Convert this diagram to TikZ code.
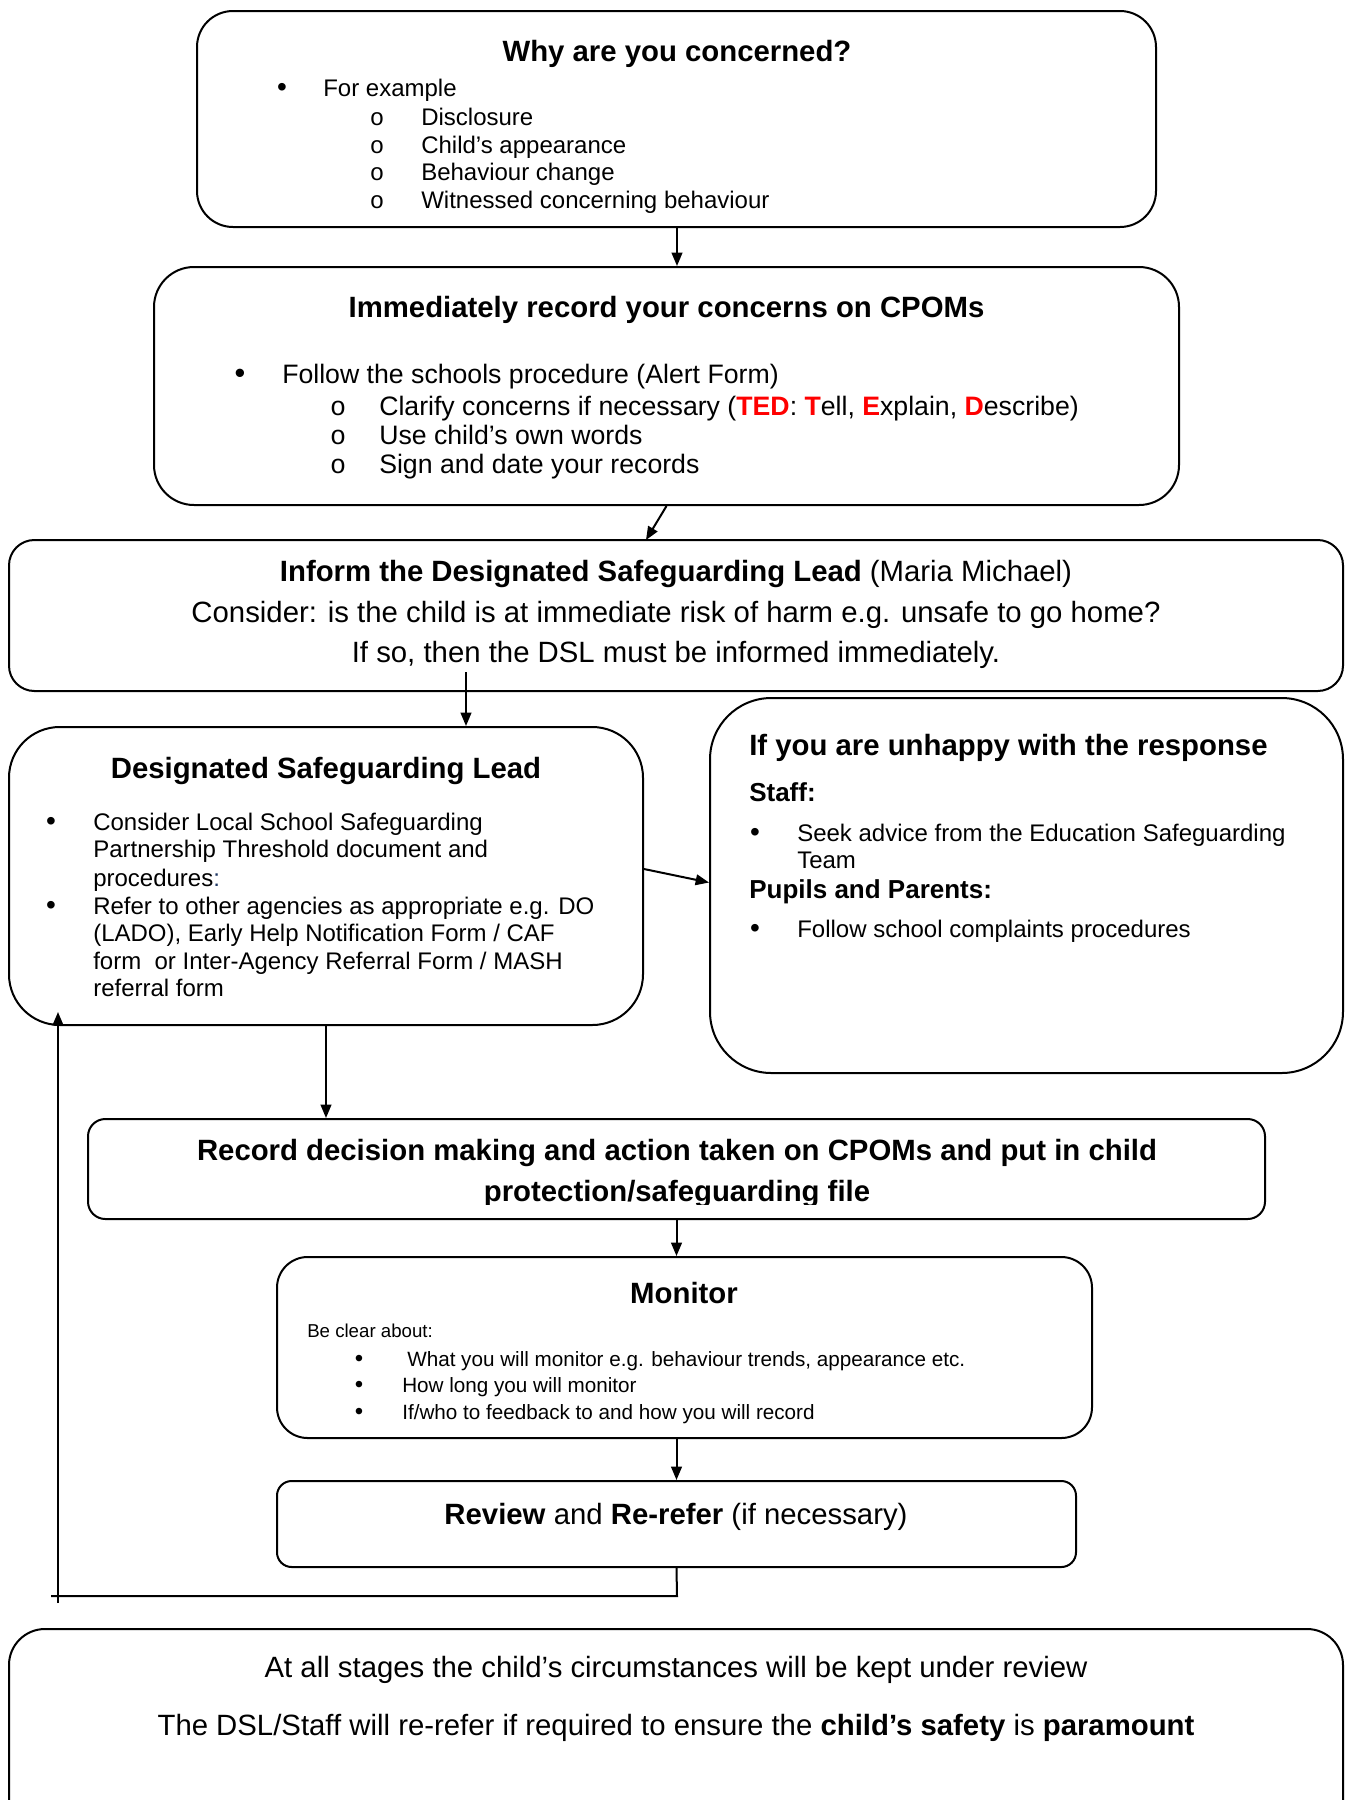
\documentclass[tikz,border=0pt]{standalone}
\usepackage{fontspec}
\setmainfont{Liberation Sans}
\newfontfamily\monofnt{Liberation Mono}
\usetikzlibrary{arrows.meta,fit,calc}
\definecolor{tedred}{RGB}{255,0,0}
\definecolor{colblue}{RGB}{31,56,100}
\newcommand\fsz[1]{\fontsize{#1}{#1}\selectfont}
\begin{document}
\begin{tikzpicture}[x=0.75pt,y=-0.75pt,
  box/.style={draw,line width=1.5pt,inner sep=0pt},
  lt/.style={anchor=mid west,inner sep=0pt,yshift=-4.8pt},
  ct/.style={anchor=mid,inner sep=0pt,yshift=-4.8pt},
  bu/.style={anchor=mid,inner sep=0pt,yshift=-4.8pt},
  arr/.style={draw,line width=1.5pt,-{Triangle[length=10pt,width=8pt]}},
  ln/.style={draw,line width=1.5pt},
  title/.style={ct,font=\fsz{22}\bfseries}]
\useasboundingbox (0,0) rectangle (1349,1800);
\fill[white] (0,0) rectangle (1349,1800);

% boxes
\node[box,rounded corners=27pt,fit={(197,11)(1156,227)}] (b1) {};
\node[box,rounded corners=30pt,fit={(154,267)(1179,505)}] (b2) {};
\node[box,rounded corners=19pt,fit={(9,540)(1343,691)}] (b3) {};
\node[box,rounded corners=38pt,fit={(9,727)(643,1025)}] (dsl) {};
\node[box,rounded corners=46pt,fit={(710,698)(1343,1073)}] (unh) {};
\node[box,rounded corners=13pt,fit={(88,1119)(1265,1219)}] (rec) {};
\node[box,rounded corners=23pt,fit={(277,1257)(1092,1438)}] (mon) {};
\node[box,rounded corners=11pt,fit={(277,1481)(1076,1567)}] (rev) {};
\node[box,rounded corners=27pt,fit={(9,1629)(1343,1845)}] (bot) {};

% box 1 text
\node[title] (t1) at (677,52) {Why are you concerned?};
\node[bu,font=\fsz{21}] (t1a) at (282,87) {•};
\node[lt,font=\fsz{18}] (t1b) at (323,87) {For example};
\node[bu,font=\fsz{18}\monofnt] (t1c) at (377,116) {o};
\node[lt,font=\fsz{18}] (t1d) at (421,116) {Disclosure};
\node[bu,font=\fsz{18}\monofnt] (t1e) at (377,143.5) {o};
\node[lt,font=\fsz{18}] (t1f) at (421,143.5) {Child’s appearance};
\node[bu,font=\fsz{18}\monofnt] (t1g) at (377,171) {o};
\node[lt,font=\fsz{18}] (t1h) at (421,171) {Behaviour change};
\begin{scope}
\clip (190,150) rectangle (1160,213.5);
\node[bu,font=\fsz{18}\monofnt] (t1i) at (377,198.6) {o};
\node[lt,font=\fsz{18}] (t1j) at (421,198.6) {Witnessed concerning behaviour};
\end{scope}

% box 2 text
\node[title] (t2) at (666.5,308) {Immediately record your concerns on CPOMs};
\node[bu,font=\fsz{23}] (t2a) at (240,374) {•};
\node[lt,font=\fsz{20}] (t2b) at (282,374) {Follow the schools procedure (Alert Form)};
\node[bu,font=\fsz{20}\monofnt] (t2c) at (338,406) {o};
\node[lt,font=\fsz{20}] (t2d) at (379,406) {Clarify concerns if necessary (\textcolor{tedred}{\textbf{TED}}: \textcolor{tedred}{\textbf{T}}ell, \textcolor{tedred}{\textbf{E}}xplain, \textcolor{tedred}{\textbf{D}}escribe)};
\node[bu,font=\fsz{20}\monofnt] (t2e) at (338,435) {o};
\node[lt,font=\fsz{20}] (t2f) at (379,435) {Use child’s own words};
\node[bu,font=\fsz{20}\monofnt] (t2g) at (338,464) {o};
\node[lt,font=\fsz{20}] (t2h) at (379,464) {Sign and date your records};

% box 3 text
\node[ct,font=\fsz{22}] (t3a) at (676,572) {\textbf{Inform the Designated Safeguarding Lead} (Maria Michael)};
\node[ct,font=\fsz{22}] (t3b) at (676,613) {Consider: is the child is at immediate risk of harm e.g. unsafe to go home?};
\node[ct,font=\fsz{22}] (t3c) at (676,653) {If so, then the DSL must be informed immediately.};

% DSL text
\node[title] (t4) at (326,769) {Designated Safeguarding Lead};
\node[bu,font=\fsz{21}] (t4a) at (51,821) {•};
\node[lt,font=\fsz{18}] (t4b) at (93,821) {Consider Local School Safeguarding};
\node[lt,font=\fsz{18}] (t4c) at (93,848) {Partnership Threshold document and};
\node[lt,font=\fsz{18}] (t4d) at (93,877) {procedures\textcolor{colblue}{:}};
\node[bu,font=\fsz{21}] (t4e) at (51,905) {•};
\node[lt,font=\fsz{18}] (t4f) at (93,905) {Refer to other agencies as appropriate e.g. DO};
\node[lt,font=\fsz{18}] (t4g) at (93,932) {(LADO), Early Help Notification Form / CAF};
\node[lt,font=\fsz{18}] (t4h) at (93,960) {form\ \ or Inter-Agency Referral Form / MASH};
\node[lt,font=\fsz{18}] (t4i) at (93,987) {referral form};

% unhappy text
\node[lt,font=\fsz{22}\bfseries] (t5) at (749,746) {If you are unhappy with the response};
\node[lt,font=\fsz{19.5}\bfseries] (t5a) at (749,792) {Staff:};
\node[bu,font=\fsz{21}] (t5b) at (755,832) {•};
\node[lt,font=\fsz{18}] (t5c) at (797,832) {Seek advice from the Education Safeguarding};
\node[lt,font=\fsz{18}] (t5d) at (797,859) {Team};
\node[lt,font=\fsz{19.5}\bfseries] (t5e) at (749,889) {Pupils and Parents:};
\node[bu,font=\fsz{21}] (t5f) at (755,928) {•};
\node[lt,font=\fsz{18}] (t5g) at (797,928) {Follow school complaints procedures};

% record text
\node[title] (t6) at (677,1151) {Record decision making and action taken on CPOMs and put in child};
\begin{scope}
\clip (100,1170) rectangle (1250,1204);
\node[anchor=base,inner sep=0pt,font=\fsz{22}\bfseries] (t6a) at (677,1201) {protection/safeguarding file};
\end{scope}

% monitor text
\node[title] (t7) at (684,1294) {Monitor};
\node[lt,font=\fsz{14}] (t7a) at (307,1328) {Be clear about:};
\node[bu,font=\fsz{18}] (t7b) at (359,1357) {•};
\node[lt,font=\fsz{15.5}] (t7c) at (407,1357) {What you will monitor e.g. behaviour trends, appearance etc.};
\node[bu,font=\fsz{18}] (t7d) at (359,1383) {•};
\node[lt,font=\fsz{15.5}] (t7e) at (402,1383) {How long you will monitor};
\node[bu,font=\fsz{18}] (t7f) at (359,1410) {•};
\node[lt,font=\fsz{15.5}] (t7g) at (402,1410) {If/who to feedback to and how you will record};

% review text
\node[ct,font=\fsz{22}] (t8) at (676,1515) {\textbf{Review} and \textbf{Re-refer} (if necessary)};

% bottom text
\node[ct,font=\fsz{22}] (t9a) at (676,1668) {At all stages the child’s circumstances will be kept under review};
\node[ct,font=\fsz{22}] (t9b) at (676,1726) {The DSL/Staff will re-refer if required to ensure the \textbf{child’s safety} is \textbf{paramount}};

% connectors
\coordinate (c3) at (466,672);
\coordinate (c2) at (646,540);
\coordinate (l1) at (677,1596);
\coordinate (l2) at (51,1596);
\coordinate (l3) at (58,1603);
\coordinate (l4) at (58,1012);
\draw[arr] (b1.south -| 677,0) -- (677,0 |- b2.north);
\draw[arr] (b2.south) -- (c2);
\draw[arr] (c3) -- (c3 |- dsl.north);
\draw[arr] ($(dsl.east)+(0,-7)$) -- ($(unh.west)+(0,-3)$);
\draw[arr] (dsl.south) -- (dsl.south |- rec.north);
\draw[arr] (rec.south) -- (rec.south |- mon.north);
\draw[arr] (mon.south -| rev.north) -- (rev.north);
\draw[ln] (rev.south) -- (l1) -- (l2);
\draw[arr] (l3) -- (l4);
\end{tikzpicture}
\end{document}
